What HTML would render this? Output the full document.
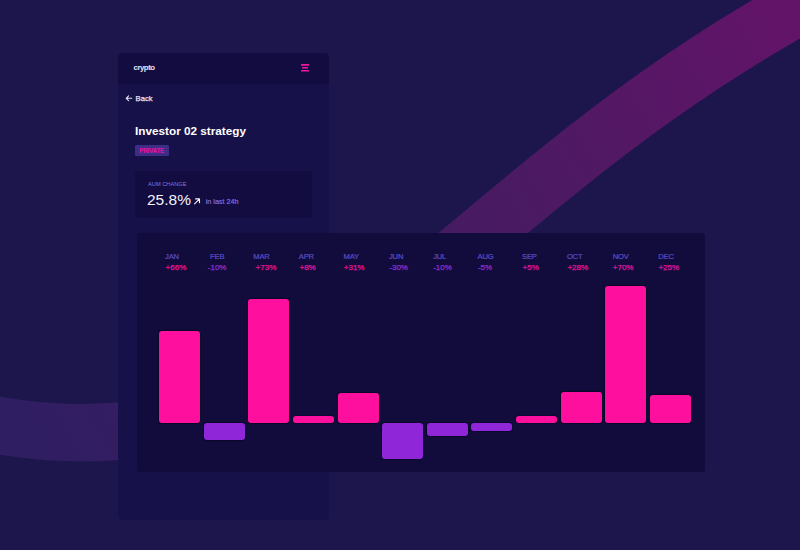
<!DOCTYPE html>
<html><head><meta charset="utf-8">
<style>
*{margin:0;padding:0;box-sizing:border-box}
html,body{width:800px;height:550px;overflow:hidden;background:#1c164c;font-family:"Liberation Sans",sans-serif}
.abs{position:absolute}
#bg{position:absolute;left:0;top:0}
#phone{position:absolute;left:118px;top:53px;width:211px;height:467px;background:#17114a;border-radius:5px;overflow:hidden}
#hdr{position:absolute;left:0;top:0;width:211px;height:31px;background:#130c40}
.t{position:absolute;white-space:nowrap;line-height:1}
#chart{position:absolute;left:137px;top:233px;width:568px;height:239px;background:#120c3d;border-radius:3px}
.bar{position:absolute;width:40.9px;border-radius:3px;box-shadow:0 0 1px 0.7px rgba(6,3,30,0.55)}
.p{background:#ff0f9e}
.n{background:#8f27d8}
.m{position:absolute;font-size:7.6px;color:#5a4cc6;line-height:1;white-space:nowrap;letter-spacing:-0.2px;-webkit-text-stroke:0.2px #5a4cc6}
.v{position:absolute;font-size:8px;line-height:1;white-space:nowrap;-webkit-text-stroke:0.25px currentColor}
.vp{color:#e3139c}
.vn{color:#8a2fd4}
</style></head>
<body>
<svg id="bg" width="800" height="550" viewBox="0 0 800 550">
<defs>
<linearGradient id="g" gradientUnits="userSpaceOnUse" x1="0" y1="430" x2="800" y2="0">
<stop offset="0.03" stop-color="#301e62"/>
<stop offset="0.62" stop-color="#4a1a62"/>
<stop offset="0.97" stop-color="#621468"/>
</linearGradient>
</defs>
<path d="M-243.8,346.7 C341.7,609.6 349.5,210.1 899,-44.9" fill="none" stroke="url(#g)" stroke-width="57.3"/>
</svg>

<div id="phone">
  <div id="hdr"></div>
</div>
<div class="t" style="left:133.5px;top:64px;font-size:7.8px;font-weight:bold;letter-spacing:-0.45px;color:#e8e6f2">crypto</div>
<svg class="abs" style="left:300px;top:63px" width="10" height="10" viewBox="0 0 10 10">
<rect x="1" y="1.1" width="8" height="1.6" rx="0.5" fill="#f0169f"/>
<rect x="2" y="4" width="6" height="1.6" rx="0.5" fill="#f0169f"/>
<rect x="1" y="7" width="8" height="1.6" rx="0.5" fill="#f0169f"/>
</svg>
<svg class="abs" style="left:122px;top:92px" width="14" height="12" viewBox="122 92 14 12"><path d="M126.3,98.3 H131.8 M128.6,95.9 L126.2,98.3 L128.6,100.7" fill="none" stroke="#e6e4f2" stroke-width="1.1" stroke-linecap="round" stroke-linejoin="round"/></svg>
<div class="t" style="left:135.6px;top:95px;font-size:7.6px;color:#e6e4f2;-webkit-text-stroke:0.25px #e6e4f2">Back</div>
<div class="t" style="left:135px;top:124.8px;font-size:11.75px;font-weight:bold;color:#ffffff">Investor 02 strategy</div>
<div class="abs" style="left:135px;top:145px;width:34px;height:11px;background:#3c2d86;border-radius:1.5px"></div>
<div class="t" style="left:139.3px;top:148.2px;font-size:6.4px;font-weight:bold;letter-spacing:-0.3px;color:#ea12a0">PRIVATE</div>
<div class="abs" style="left:134.5px;top:170.5px;width:177.5px;height:47.5px;background:#130c40;border-radius:3px"></div>
<div class="t" style="left:148px;top:181.8px;font-size:5.7px;color:#8276de">AUM CHANGE</div>
<div class="t" style="left:147px;top:191.7px;font-size:15.5px;color:#f4f2fa">25.8%</div>
<svg class="abs" style="left:190px;top:195px" width="14" height="12" viewBox="190 195 14 12"><path d="M194.6,203.8 L199.5,198.9 M195.6,198.9 H199.5 V202.8" fill="none" stroke="#f4f2fa" stroke-width="1.1" stroke-linecap="round" stroke-linejoin="round"/></svg>
<div class="t" style="left:205.7px;top:198px;font-size:7.2px;color:#7a6ee0;-webkit-text-stroke:0.2px #7a6ee0">in last 24h</div>

<div id="chart"></div>
<div class="bar p" style="left:159.27px;top:330.5px;height:92.5px"></div>
<div class="bar n" style="left:203.87px;top:423.0px;height:17.2px"></div>
<div class="bar p" style="left:248.47px;top:299.3px;height:123.7px"></div>
<div class="bar p" style="left:293.07px;top:416.1px;height:6.9px"></div>
<div class="bar p" style="left:337.67px;top:392.5px;height:30.5px"></div>
<div class="bar n" style="left:382.27px;top:423.0px;height:35.7px"></div>
<div class="bar n" style="left:426.87px;top:423.0px;height:13.4px"></div>
<div class="bar n" style="left:471.47px;top:423.0px;height:8.4px"></div>
<div class="bar p" style="left:516.07px;top:415.8px;height:7.2px"></div>
<div class="bar p" style="left:560.67px;top:391.8px;height:31.2px"></div>
<div class="bar p" style="left:605.27px;top:286.0px;height:137.0px"></div>
<div class="bar p" style="left:649.87px;top:395.4px;height:27.6px"></div>
<div class="m" style="left:165.1px;top:253px">JAN</div>
<div class="v vp" style="left:165.6px;top:264px">+66%</div>
<div class="m" style="left:210.1px;top:253px">FEB</div>
<div class="v vn" style="left:207.8px;top:264px">-10%</div>
<div class="m" style="left:253.3px;top:253px">MAR</div>
<div class="v vp" style="left:255.6px;top:264px">+73%</div>
<div class="m" style="left:298.8px;top:253px">APR</div>
<div class="v vp" style="left:299.5px;top:264px">+8%</div>
<div class="m" style="left:343.5px;top:253px">MAY</div>
<div class="v vp" style="left:343.8px;top:264px">+31%</div>
<div class="m" style="left:389.0px;top:253px">JUN</div>
<div class="v vn" style="left:389.3px;top:264px">-30%</div>
<div class="m" style="left:433.2px;top:253px">JUL</div>
<div class="v vn" style="left:433.2px;top:264px">-10%</div>
<div class="m" style="left:477.6px;top:253px">AUG</div>
<div class="v vn" style="left:477.9px;top:264px">-5%</div>
<div class="m" style="left:522.1px;top:253px">SEP</div>
<div class="v vp" style="left:522.6px;top:264px">+5%</div>
<div class="m" style="left:566.9px;top:253px">OCT</div>
<div class="v vp" style="left:567.4px;top:264px">+28%</div>
<div class="m" style="left:612.8px;top:253px">NOV</div>
<div class="v vp" style="left:612.8px;top:264px">+70%</div>
<div class="m" style="left:658.3px;top:253px">DEC</div>
<div class="v vp" style="left:658.4px;top:264px">+25%</div>
</body></html>
